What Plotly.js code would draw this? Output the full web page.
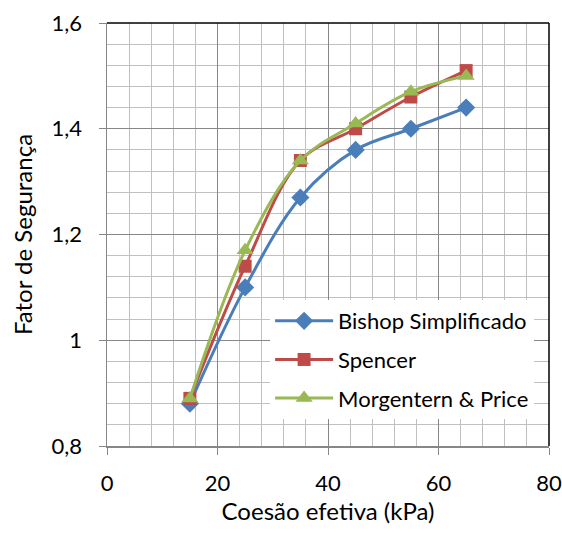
<!DOCTYPE html>
<html>
<head>
<meta charset="utf-8">
<script src="https://cdn.plot.ly/plotly-3.0.1.min.js"></script>
<style>html,body{margin:0;padding:0;background:#fff;}#chart{width:562px;height:534px;}</style>
</head>
<body>
<div id="chart"></div>
<script>
const coesao = [15, 25, 35, 45, 55, 65];
const bishop = [0.88, 1.10, 1.27, 1.36, 1.40, 1.44];
const spencer = [0.89, 1.14, 1.34, 1.40, 1.46, 1.51];
const morgenstern = [0.89, 1.17, 1.34, 1.41, 1.47, 1.50];
const seriesNames = ['Bishop Simplificado', 'Spencer', 'Morgentern & Price'];

const FONT = 'Lato, "Liberation Sans", sans-serif';

function tr(y, name, color, symbol, size, grp) {
  return {
    x: coesao, y: y, name: name, type: 'scatter', mode: 'lines+markers',
    legendgroup: grp,
    line: {color: color, width: 3, shape: 'spline', smoothing: 1},
    marker: {color: color, symbol: symbol, size: size}
  };
}

const data = [
  tr(bishop, seriesNames[0], '#4A7EBB', 'diamond', 14, 'a'),
  tr(spencer, seriesNames[1], '#BE4B48', 'square', 13, 'b'),
  tr(morgenstern, seriesNames[2], '#98B954', 'triangle-up', 15, 'c')
];

const layout = {
  width: 562, height: 534,
  margin: {l: 107, r: 13, t: 23, b: 88},
  paper_bgcolor: '#fff', plot_bgcolor: '#fff',
  separators: ',.',
  font: {family: FONT, size: 22, color: '#000'},
  showlegend: true,
  legend: {
    x: 0.369, xanchor: 'left', y: 0.345, yanchor: 'top',
    bgcolor: '#fff', borderwidth: 0,
    font: {family: FONT, size: 22, color: '#000'},
    itemwidth: 58,
    tracegroupgap: 7, traceorder: 'grouped'
  },
  xaxis: {
    range: [0, 80], dtick: 20, tick0: 0,
    showgrid: true, gridcolor: '#878787', gridwidth: 1,
    minor: {dtick: 4, showgrid: true, gridcolor: '#c0c0c0', gridwidth: 1},
    showline: true, linecolor: '#878787', linewidth: 1.5,
    ticks: 'outside', ticklen: 7, tickcolor: '#878787',
    ticklabelstandoff: 10,
    zeroline: false, automargin: 'bottom',
    tickfont: {family: FONT, size: 22},
    title: {text: 'Coesão efetiva (kPa)', font: {family: FONT, size: 24}, standoff: 0}
  },
  yaxis: {
    range: [0.8, 1.6], dtick: 0.2, tick0: 0.8,
    showgrid: true, gridcolor: '#878787', gridwidth: 1,
    minor: {dtick: 0.04, showgrid: true, gridcolor: '#c0c0c0', gridwidth: 1},
    showline: true, linecolor: '#878787', linewidth: 1.5,
    ticks: 'outside', ticklen: 7, tickcolor: '#878787',
    ticklabelstandoff: 12,
    zeroline: false, automargin: 'left',
    tickfont: {family: FONT, size: 22},
    title: {text: 'Fator de Segurança', font: {family: FONT, size: 24}, standoff: 12}
  },
  shapes: [
    {type: 'line', xref: 'paper', yref: 'paper', x0: 0, x1: 1, y0: 1, y1: 1, line: {color: '#000', width: 1.5}},
    {type: 'line', xref: 'paper', yref: 'paper', x0: 1, x1: 1, y0: 0, y1: 1, line: {color: '#000', width: 1.5}}
  ]
};

Plotly.newPlot('chart', data, layout, {displayModeBar: false, staticPlot: true});
</script>
</body>
</html>
